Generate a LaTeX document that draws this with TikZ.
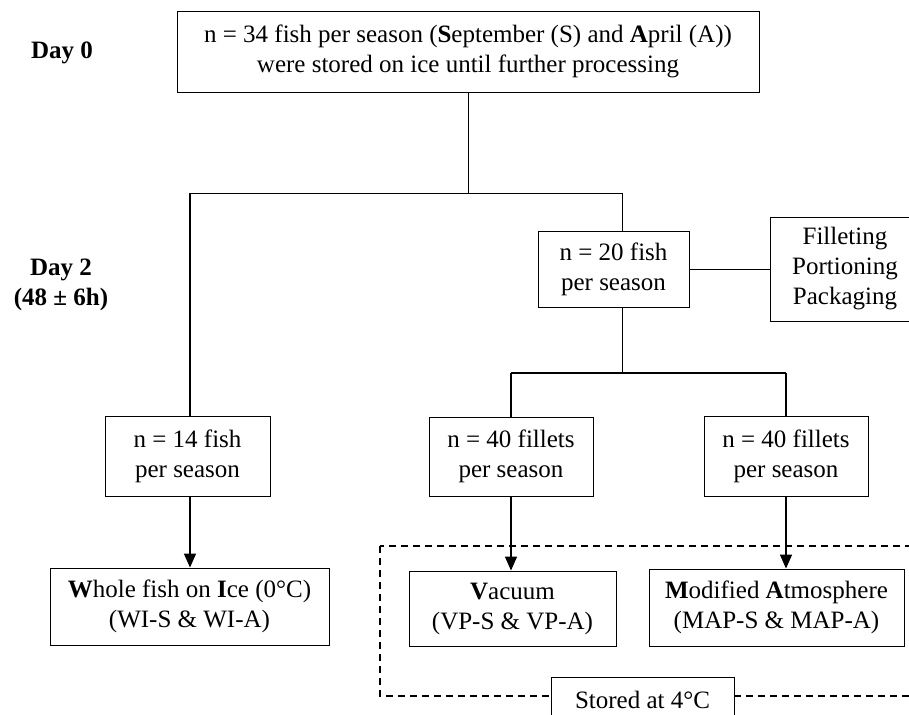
\documentclass[tikz,border=0pt]{standalone}
\usepackage{fontspec}
\setmainfont{Liberation Serif}
\usetikzlibrary{arrows.meta,positioning}

\begin{document}
\begin{tikzpicture}[x=1pt, y=-1pt, >={Triangle[length=14pt,width=12pt]},
    box/.style={draw, line width=0.9pt, align=center, inner sep=0pt,
                font=\fontsize{25}{30}\selectfont},
    daylabel/.style={align=center, font=\fontsize{25}{30}\selectfont\bfseries},
    link/.style={line width=0.8pt},
    branch/.style={line width=1.5pt}]
    \useasboundingbox (0,0) rectangle (909,714);

    % labels on the left
    \node[daylabel] (day0) at (62,53) {Day 0};
    \node[daylabel] (day2) at (61,285) {Day 2\\(48 ± 6h)};

    % storage area
    \draw[dashed, line width=1.4pt, dash pattern=on 7pt off 5pt] (380,546) rectangle (940,696);

    % boxes
    \node[box, minimum width=582pt, minimum height=81pt] (n34) at (468,51.5)
        {n = 34 fish per season (\textbf{S}eptember (S) and \textbf{A}pril (A))\\were stored on ice until further processing};
    \node[box, minimum width=151pt, minimum height=76pt] (n20) at (613.5,269) {n = 20 fish\\per season};
    \node[box, minimum width=150pt, minimum height=104pt] (proc) at (845,269) {Filleting\\Portioning\\Packaging};
    \node[box, minimum width=165pt, minimum height=80pt] (n14) at (187.5,456) {n = 14 fish\\per season};
    \node[box, minimum width=164pt, minimum height=79pt] (n40v) at (511,456.5) {n = 40 fillets\\per season};
    \node[box, minimum width=164pt, minimum height=80pt] (n40m) at (786,456) {n = 40 fillets\\per season};
    \node[box, minimum width=279pt, minimum height=77pt] (wi) at (189.5,606.5)
        {\textbf{W}hole fish on \textbf{I}ce (0°C)\\(WI-S \& WI-A)};
    \node[box, minimum width=207pt, minimum height=75pt] (vp) at (512.5,608.5)
        {\textbf{V}acuum\\(VP-S \& VP-A)};
    \node[box, minimum width=255pt, minimum height=77pt] (map) at (776.5,607.5)
        {\textbf{M}odified \textbf{A}tmosphere\\(MAP-S \& MAP-A)};
    \node[box, fill=white, minimum width=183pt, minimum height=46pt] (stored) at (642.5,700) {Stored at 4°C};

    % junctions
    \coordinate (jl) at (190,193);
    \coordinate (jr) at (622,193);
    \coordinate (kl) at (511,373);
    \coordinate (kr) at (786,373);

    % connectors
    \draw[link] (n34.south) -- (n34.south |- jl);
    \draw[link] (jl) -- (jr);
    \draw[branch] (jl) -- (jl |- n14.north);
    \draw[link] (jr) -- (jr |- n20.north);
    \draw[link] (n20.east) -- (proc.west);
    \draw[link] (jr |- n20.south) -- (jr |- kl);
    \draw[branch] (kl) -- (kr);
    \draw[branch] (kl) -- (kl |- n40v.north);
    \draw[branch] (kr) -- (kr |- n40m.north);

    \draw[branch, ->] (jl |- n14.south) -- (jl |- wi.north);
    \draw[branch, ->] (n40v.south) -- (n40v.south |- vp.north);
    \draw[branch, ->] (n40m.south) -- (n40m.south |- map.north);
\end{tikzpicture}
\end{document}
